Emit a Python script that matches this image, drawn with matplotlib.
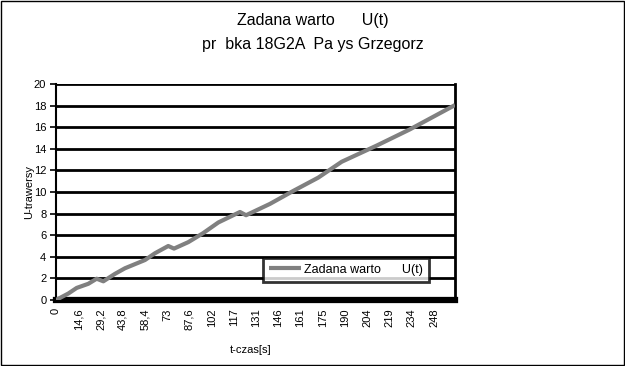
import matplotlib
matplotlib.use("Agg")
import matplotlib.pyplot as plt
from matplotlib.patches import Rectangle

plt.rcParams['font.family'] = ['Liberation Sans', 'DejaVu Sans']

# Data (time in s, value of U)
t_values = [0.0, 8.1, 13.6, 21.2, 26.7, 31.1, 38.7, 45.3, 58.4, 65.0, 73.7, 77.5,
            86.9, 96.7, 106.6, 120.8, 124.8, 140.5, 155.8, 172.2, 187.6, 210.6,
            232.4, 262.0]
u_values = [0.0, 0.6, 1.12, 1.5, 1.97, 1.73, 2.42, 2.94, 3.7, 4.33, 5.0, 4.76,
            5.36, 6.2, 7.18, 8.15, 7.85, 8.9, 10.1, 11.33, 12.8, 14.3,
            15.8, 18.05]
x_tick_pos = [0, 14.6, 29.2, 43.8, 58.4, 73.0, 87.6, 102.2, 116.8, 131.4, 146.0,
              160.6, 175.2, 189.8, 204.4, 219.0, 233.6, 248.2]
x_tick_labels = ["0", "14,6", "29,2", "43,8", "58,4", "73", "87,6", "102", "117",
                 "131", "146", "161", "175", "190", "204", "219", "234", "248"]
y_ticks = [0, 2, 4, 6, 8, 10, 12, 14, 16, 18, 20]
series_name = "Zadana warto      U(t)"
title_line1 = "Zadana warto      U(t)"
title_line2 = "pr  bka 18G2A  Pa ys Grzegorz"
t_end = 262.0

fig = plt.figure(figsize=(6.25, 3.66), dpi=100)
fig.patches.append(Rectangle((0.0016, 0.003), 0.9968, 0.994, transform=fig.transFigure,
                             fill=False, edgecolor='black', linewidth=1.0))

ax = fig.add_axes([56/625, 1-300/366, (455-56)/625, (300-84)/366])
ax.plot(t_values, u_values, color='#808080', linewidth=3, label=series_name,
        solid_capstyle='butt', zorder=3)

ax.set_xlim(0, t_end)
ax.set_ylim(0, 20)
ax.set_yticks(y_ticks)
ax.set_yticklabels([str(v) for v in y_ticks], fontsize=8)
ax.set_xticks(x_tick_pos)
ax.set_xticklabels(x_tick_labels, rotation=90, fontsize=8)
ax.tick_params(axis='x', length=0, pad=6)
ax.tick_params(axis='y', length=4, width=1.2, direction='out', pad=3)

for v in y_ticks[1:]:
    ax.axhline(v, color='black', linewidth=2, zorder=1)

ax.spines['top'].set_visible(False)
ax.spines['left'].set_linewidth(1.5)
ax.spines['right'].set_linewidth(2)
ax.spines['bottom'].set_linewidth(4.5)

ax.set_ylabel("U-trawersy", fontsize=8)
ax.yaxis.set_label_coords(-0.055, 0.5)
ax.set_xlabel("t-czas[s]", fontsize=8)
ax.xaxis.set_label_coords(0.487, -0.21)

fig.text(313/625, 1-20/366, title_line1, fontsize=11.5, ha='center', va='center')
fig.text(313/625, 1-44/366, title_line2, fontsize=11.5, ha='center', va='center')

leg = ax.legend(loc='lower left', bbox_to_anchor=(0.519, 0.083), fontsize=9,
                frameon=True, fancybox=False, handlelength=2.5, borderpad=0.5,
                handletextpad=0.3, borderaxespad=0)
leg.get_frame().set_edgecolor('black')
leg.get_frame().set_linewidth(2)

fig.savefig("out.png", dpi=100)
